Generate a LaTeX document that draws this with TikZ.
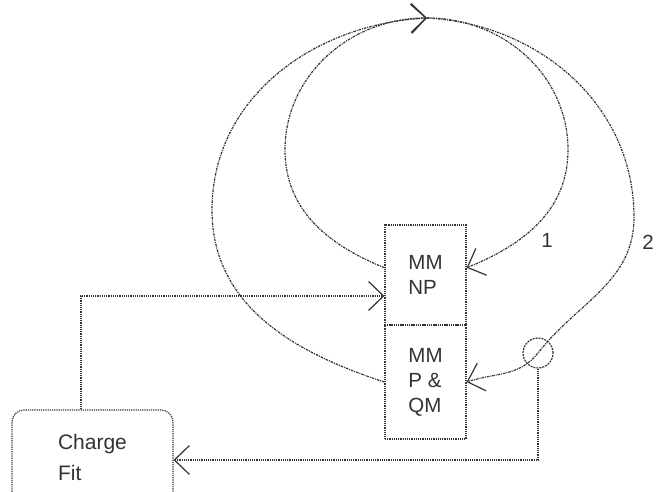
\documentclass[tikz,border=0pt]{standalone}
\usepackage{fontspec}
\setmainfont{Liberation Sans}
\usetikzlibrary{arrows.meta}
\definecolor{ink}{HTML}{333333}
\begin{document}
\begin{tikzpicture}[x=1pt,y=1pt,
  every node/.style={text=ink, font=\fontsize{20.5}{25}\selectfont},
  box/.style={draw=ink, line width=1.2pt, densely dotted, inner sep=0pt, align=left},
  link/.style={draw=ink, line width=1.2pt, densely dotted},
  orbit/.style={draw=ink, line width=1.2pt, dash pattern=on 2.5pt off 1pt on 1pt off 1pt},
  barb/.style={-{Straight Barb[length=15pt,width=29pt,line width=1.2pt]}},
  lbl/.style={inner sep=0pt}]
\useasboundingbox (0,0) rectangle (656,492);
% boxes
\node[box, minimum width=81, minimum height=100] (np) at (425.5,217) {MM\\NP};
\node[box, minimum width=81, minimum height=114] (pqm) at (425.5,110) {MM\\P \&\\QM};
\node[box, rounded corners=12pt, minimum width=161, minimum height=95,
      font=\fontsize{21}{31}\selectfont] (cf) at (92.5,34.5) {Charge\\Fit};
% ring
\node[draw=ink, line width=1.2pt, dash pattern=on 2pt off 1pt, circle, minimum size=30, inner sep=0pt] (ring) at (538,139) {};
% coordinates
\coordinate (top) at (427,474);
\coordinate (k1) at (81,196);
\coordinate (k2) at (538,32);
% inner loop (1)
\draw[orbit, barb] (np.170) to[out=158,in=270] (285,342) to[out=90,in=180] (top);
\draw[orbit, barb] (top) to[out=0,in=90] (568,342) to[out=270,in=22] (np.10);
% outer loop (2)
\draw[orbit, barb] (pqm.west) to[out=162,in=270] (212,282) to[out=90,in=183] (top);
\draw[orbit, barb] (top) to[out=-3,in=90] (634,275) to[out=270,in=52] (ring.center) to[out=232,in=18] (pqm.east);
% feedback lines
\draw[link, barb] (ring.south) -- (k2) -- (cf.east |- k2);
\draw[link, barb] (cf.north -| k1) -- (k1) -- (np.west |- k1);
% labels
\node[lbl] (l1) at (547,252) {1};
\node[lbl] (l2) at (648,250) {2};
\end{tikzpicture}
\end{document}
